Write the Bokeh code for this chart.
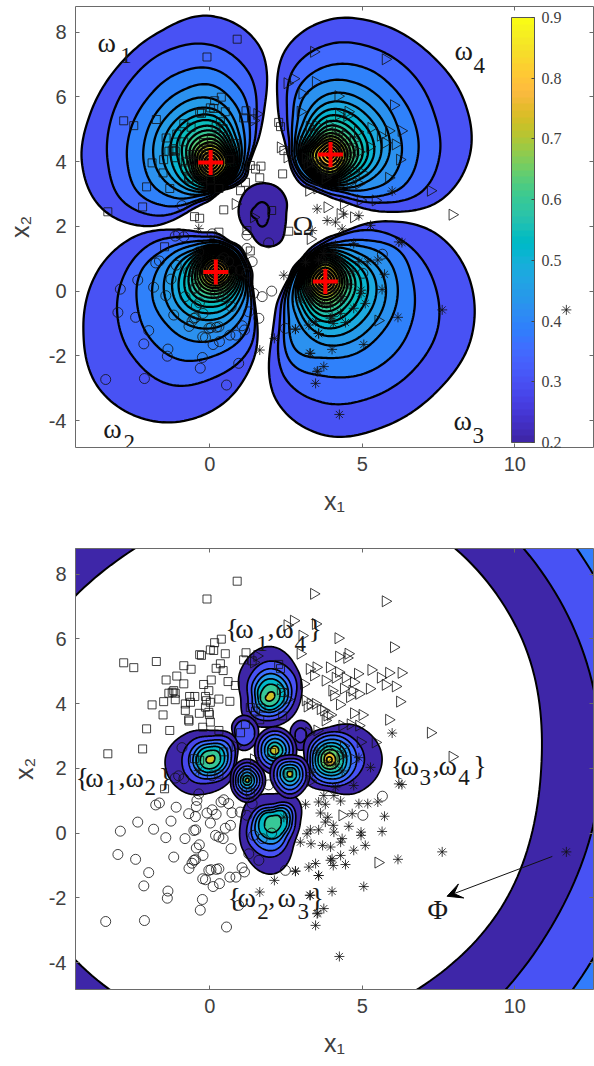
import math
import numpy as np
from bokeh.core.properties import value
from bokeh.embed import file_html
from bokeh.layouts import column
from bokeh.models import (Arrow, ColorBar, FixedTicker, LinearAxis,
                          LinearColorMapper, Range1d, VeeHead)
from bokeh.plotting import figure
from bokeh.resources import INLINE

x_ticks = [0, 5, 10]
y_ticks = [-4, -2, 0, 2, 4, 6, 8]
cbar_ticks = [0.2, 0.3, 0.4, 0.5, 0.6, 0.7, 0.8, 0.9]

centers_x = [0.03, 0.20, 3.79, 3.96]
centers_y = [3.97, 0.59, 0.30, 4.22]

square_x = [.90,-.09,-2.82,-2.49,-1.75,.38,.16,.13,.02,-.27,-.33,.51,1.19,1.11,-.85,-.61,.35,.21,.44,-1.43,-1.08,-.85,.05,-.20,.60,.84,-1.18,-1.34,-1.13,-1.23,-.66,-.49,-.03,-.14,-.11,.30,.66,-1.89,-1.51,-1.13,-.80,-.63,.02,-.14,-.80,-.03,-.34,-1.53,-.01,.02,-.69,-.68,-.23,-2.07,-1.31,.30,-2.20,-3.34,-1.48,2.26,2.32,2.43,1.33,1.68,1.50,2.39,1.64,1.17,1.01,.46,-.50,-.33,2.03,.30,2.59,1.22,1.39,1.33]
square_y = [7.78,7.23,5.26,5.11,5.30,5.99,5.88,5.64,5.66,5.49,5.51,5.54,5.57,5.35,5.17,5.06,5.23,5.09,5.02,4.73,4.85,4.61,4.73,4.59,4.68,4.56,4.40,4.32,4.32,4.35,4.22,4.22,4.40,4.22,4.09,4.14,4.07,3.96,4.06,4.12,3.99,4.04,4.04,3.89,3.79,3.73,3.70,3.65,3.66,3.43,3.50,3.46,3.27,3.22,3.17,3.17,2.60,2.45,1.37,5.21,5.08,4.34,3.88,3.86,3.77,3.62,3.50,3.36,3.10,2.51,2.30,2.25,2.49,1.82,1.85,1.87,5.32,1.24]

circle_x = [-2.93,-2.36,-1.27,-1.84,-3.01,-2.43,-1.44,-.81,-.52,-.46,-.34,-.44,-1.18,-.22,-.47,-.58,-.68,-2.0,-2.16,-1.37,-1.39,-.24,-.31,-3.41,-2.14,.55,.95,.04,.22,-.23,-.14,.11,.32,.66,.86,1.06,1.14,.70,.19,.30,.44,.51,.68,.02,-.47,-.69,-1.10,-1.65,-1.77,-.44,-.42,-.36,-.09,.08,.21,.37,.46,.62,.73,1.0,1.22,1.44,1.61,1.28,2.48,2.03,1.72,1.93,1.22,1.22,1.39,-1.13,-.85,-.52,-.03,.30,5.66,5.02,-.91,.08,-1.02]
circle_y = [.06,.34,.37,.12,-.66,-.81,-.14,-.17,.08,.10,-.36,-.46,-.74,-.69,-.82,-.93,-1.09,-1.22,-1.63,-1.79,-2.01,-2.05,-2.38,-2.73,-2.70,-2.90,-2.23,-1.13,-1.12,-1.41,-1.44,-1.65,-1.56,-1.36,-1.36,-1.07,-1.20,-.48,-.07,-.12,-.17,.15,.24,.31,.51,.60,.80,.93,.87,.82,1.01,1.21,.62,.72,.58,.96,1.03,.91,.63,.65,.55,-.07,-.84,-.64,-1.15,0,-.17,1.49,1.73,1.32,.91,1.70,1.68,-.84,-1.15,-1.10,1.14,.55,2.64,1.77,1.77]

triangle_x = [4.21,6.03,2.97,4.23,4.54,4.50,3.27,3.49,3.93,4.23,4.85,5.29,5.87,6.28,5.60,5.76,6.09,5.24,3.41,3.79,4.12,4.45,4.72,3.08,4.01,4.39,4.67,4.89,4.07,4.59,4.26,6.23,4.72,5.0,5.87,3.14,3.47,3.2,3.74,3.96,3.79,4.34,4.61,4.89,3.52,3.03,3.47,3.41,5.76,2.75,7.24,7.95,5.52,4.34,2.54,1.55,1.44,2.32,2.54,3.25,3.85,4.39,4.28,1.44,.84,3.3,4.72,5.43,4.94,3.63,3.85,3.3]
triangle_y = [6.02,5.74,5.54,5.45,5.54,5.41,5.07,5.12,5.12,4.97,4.92,5.04,4.95,4.95,4.80,4.58,4.53,4.46,4.87,4.71,4.80,4.80,4.66,4.61,4.40,4.46,4.40,4.30,4.25,4.20,3.97,4.06,3.70,3.65,3.5,4.10,3.99,3.91,3.79,3.65,3.48,3.32,3.36,3.32,3.17,6.10,6.46,7.39,7.16,6.56,3.10,2.36,-.91,.55,6.42,5.47,5.27,4.44,4.13,3.10,2.59,2.69,2.38,2.28,2.69,1.61,2.28,2.80,2.81,3.83,3.63,3.99]

star_x = [4.29,3.14,3.57,3.79,3.74,4.07,4.89,5.18,5.51,3.63,4.67,5.73,3.87,3.79,4.56,4.05,4.07,3.30,3.57,3.19,4.96,4.96,5.65,2.97,3.32,3.70,3.96,4.29,4.34,4.72,5.10,4.29,4.45,3.96,4.05,6.17,3.47,3.25,2.81,3.57,5.05,4.01,3.30,7.62,11.69,4.25,3.47,3.74,3.54,-.36,2.43,2.12,1.64,2.81,3.57,4.01,3.28,3.52,3.52,3.85,4.12,3.36,4.39,4.34,4.89,5.98,5.27,6.2,6.3,4.72,4.12]
star_y = [.99,.89,.96,.89,1.16,1.16,.91,.91,.96,.62,.60,.52,.49,.34,.21,.24,.03,.10,.10,-.02,.03,-.07,.05,-.28,-.33,-.38,-.43,-.28,-.17,-.53,-.38,-.69,-.97,-.84,-1.0,-.81,-.94,-1.05,-1.17,-1.31,-1.65,-1.80,-1.92,-.58,-.58,-3.81,-2.85,-2.33,-2.47,1.93,.49,-1.46,-1.82,-1.18,-1.31,-.79,-1.92,-2.49,2.54,2.18,2.13,1.87,2.38,1.92,2.33,3.09,2.03,1.52,1.5,1.47,1.42]

# Contour outlines: radii from each lobe's centre, evenly spaced counter-clockwise from east.
lobe1_center = (0.03, 3.97)
lobe1_rings = [
    [1.28,1.64,2.49,4.15,4.81,4.59,4.37,4.26,4.22,3.88,2.95,1.69,1.22,1.0,1.11,1.26],
    [1.22,1.53,2.13,3.22,3.86,3.93,3.75,3.55,3.37,3.17,2.46,1.48,1.15,.94,1.04,1.18],
    [1.15,1.37,1.80,2.57,3.09,3.11,2.95,2.84,2.73,2.57,2.02,1.37,1.07,.87,.96,1.09],
    [1.07,1.22,1.53,2.08,2.55,2.54,2.43,2.30,2.19,2.02,1.64,1.20,1.0,.82,.90,1.0],
    [.98,1.32,2.11,2.08,1.84,1.36,.98,.92],
    [.93,1.17,1.78,1.78,1.53,1.18,.93,.87],
    [.88,1.04,1.56,1.55,1.27,1.05,.88,.82],
    [.83,.94,1.38,1.36,1.04,.92,.83,.78],
    [.78,.86,1.20,1.16,.88,.80,.78,.73],
    [.73,.78,1.05,1.0,.74,.72,.73,.69],
    [.68,.71,.91,.86,.65,.66,.68,.64],
    [.63,.64,.78,.73,.58,.6,.63,.59],
    [.57,.57,.66,.62,.51,.54,.57,.54],
    [.51,.5,.55,.52,.44,.47,.51,.48],
    [.42,.41,.44,.42,.36,.39,.42,.40],
    [.33,.32,.34,.32,.28,.3,.33,.31],
    [.23,.22,.24,.22,.2,.21,.23,.22],
    [.13,.13,.13,.13,.11,.12,.13,.13],
]
lobe2_center = (0.20, 0.59)
lobe2_rings = [
    [1.19,1.11,1.15,1.12,1.28,1.42,1.97,2.95,3.89,4.70,5.41,5.30,4.48,3.17,1.86,1.31],
    [1.13,1.07,1.09,1.07,1.15,1.26,1.64,2.35,2.96,3.50,3.88,3.99,3.44,2.79,1.80,1.26],
    [1.06,1.0,1.0,1.0,1.04,1.11,1.37,1.86,2.46,2.79,3.06,3.11,2.73,2.30,1.64,1.18],
    [1.0,.94,.95,.94,.98,1.03,1.2,1.55,1.95,2.24,2.35,2.4,2.22,1.85,1.45,1.1],
    [.92,.87,.90,1.03,1.62,1.95,1.82,1.28],
    [.88,.83,.86,.94,1.36,1.66,1.55,1.14],
    [.84,.79,.82,.87,1.15,1.44,1.33,1.02],
    [.79,.75,.77,.80,.98,1.22,1.13,.92],
    [.74,.71,.73,.74,.86,1.04,.97,.83],
    [.69,.67,.68,.68,.76,.89,.84,.74],
    [.64,.62,.63,.62,.67,.76,.72,.66],
    [.59,.57,.58,.56,.6,.65,.62,.58],
    [.53,.52,.52,.5,.52,.55,.53,.5],
    [.47,.46,.46,.45,.45,.46,.45,.44],
    [.39,.39,.38,.38,.37,.37,.37,.36],
    [.31,.31,.3,.3,.29,.29,.29,.28],
    [.22,.22,.21,.21,.2,.2,.2,.2],
    [.12,.12,.12,.12,.11,.11,.11,.11],
]
lobe3_center = (3.79, 0.30)
lobe3_rings = [
    [4.75,3.99,2.79,1.80,1.40,1.20,1.09,1.15,1.26,1.69,2.46,4.21,5.05,5.14,5.14,5.14],
    [3.55,3.0,2.35,1.69,1.29,1.11,1.04,1.09,1.20,1.53,2.13,3.44,3.99,4.10,4.10,3.99],
    [2.87,2.62,1.91,1.42,1.20,1.04,.98,1.04,1.15,1.42,1.91,2.90,3.11,3.28,3.28,3.11],
    [2.35,2.13,1.64,1.29,1.15,1.0,.93,.98,1.09,1.31,1.69,2.46,2.51,2.57,2.51,2.46],
    [1.95,1.38,1.08,.95,.98,1.42,2.08,2.12],
    [1.65,1.2,1.02,.90,.93,1.24,1.78,1.78],
    [1.38,1.06,.97,.85,.88,1.1,1.53,1.5],
    [1.16,.94,.92,.80,.83,.97,1.32,1.25],
    [.98,.86,.87,.75,.78,.86,1.14,1.05],
    [.84,.78,.82,.70,.73,.77,.98,.9],
    [.72,.7,.76,.65,.68,.69,.84,.77],
    [.63,.63,.70,.6,.62,.62,.72,.66],
    [.55,.56,.63,.55,.56,.55,.61,.57],
    [.47,.49,.55,.49,.5,.47,.51,.48],
    [.39,.4,.45,.41,.42,.39,.41,.39],
    [.3,.31,.35,.32,.33,.3,.31,.3],
    [.21,.22,.25,.23,.23,.21,.21,.21],
    [.11,.12,.14,.13,.13,.12,.12,.12],
]
lobe4_center = (3.96, 4.22)
lobe4_rings = [
    [4.57,4.72,4.64,4.59,4.43,3.77,2.46,1.69,1.40,1.37,1.37,1.29,1.40,1.77,2.66,3.91],
    [3.58,3.66,3.77,3.77,3.63,3.08,2.02,1.48,1.34,1.29,1.26,1.20,1.29,1.55,2.24,3.22],
    [2.87,2.95,3.0,3.06,2.93,2.51,1.75,1.37,1.26,1.20,1.17,1.09,1.15,1.37,1.97,2.62],
    [2.33,2.38,2.46,2.49,2.43,2.13,1.53,1.26,1.18,1.14,1.09,1.03,1.09,1.26,1.64,2.13],
    [1.92,2.05,2.0,1.33,1.1,1.0,1.03,1.4],
    [1.65,1.75,1.72,1.18,1.05,.96,.99,1.22],
    [1.42,1.48,1.48,1.05,1.0,.92,.95,1.08],
    [1.22,1.26,1.28,.94,.95,.88,.91,.96],
    [1.05,1.08,1.10,.84,.90,.84,.87,.86],
    [.90,.92,.95,.76,.85,.8,.82,.78],
    [.77,.78,.82,.69,.79,.75,.77,.71],
    [.66,.66,.70,.62,.73,.7,.72,.64],
    [.56,.56,.60,.55,.66,.64,.66,.57],
    [.47,.47,.50,.48,.58,.57,.58,.5],
    [.38,.38,.41,.39,.47,.47,.47,.41],
    [.3,.3,.32,.3,.36,.36,.36,.32],
    [.21,.21,.22,.21,.25,.25,.25,.22],
    [.11,.11,.12,.12,.14,.14,.14,.12],
]
lobe_levels = [.30,.345,.385,.42,.45,.48,.51,.54,.57,.60,.63,.66,.69,.72,.75,.79,.83,.87]

omega_center = (1.72, 2.39)
omega_rings = [
    [.79,.91,1.0,1.0,.94,.83,.77,.74,.74,1.04,1.11,.87],
    [.22,.3,.38,.33,.36,.27,.42,.27],
]
omega_levels = [.2, .205]

phi_center = (2.06, 1.78)
phi_rings = [
    [12.3,12.4,12.6,12.5,12.2,12.2,12.2,12.2,12.2,12.1,12.1,12.1],
    [10.75,11.02,11.15,10.98,10.82,10.82,10.82,10.82,10.66,10.49,10.43,10.39],
    [8.79,9.34,9.57,9.25,8.72,8.82,8.92,8.89,8.79,8.59,8.46,8.66],
]
phi_background_level = .38
phi_levels = [.30, .20]

pair14_center = (1.96, 4.20)
pair14_rings = [
    [1.04,1.29,1.66,1.31,.95,1.09,.98,.98],
    [.85,1.09,1.18,.93,.71,.82,.77,.77],
    [.71,.85,.93,.74,.57,.66,.63,.63],
    [.6,.71,.77,.60,.47,.51,.5,.51],
    [.49,.57,.6,.48,.38,.40,.42,.42],
    [.33,.42,.42,.33,.30,.30,.30,.30],
    [.16,.2,.16,.11,.13,.14,.13,.13],
]
pair14_levels = [.2,.3,.36,.44,.52,.6,.73]
pair12_center = (0.02, 2.27)
pair12_rings = [
    [.87,1.09,.96,1.18,1.48,1.40,1.09,.95],
    [.8,.93,.77,.87,.93,.93,.77,.77],
    [.68,.77,.63,.68,.71,.71,.63,.63],
    [.57,.63,.52,.55,.57,.57,.52,.52],
    [.46,.51,.42,.44,.46,.46,.42,.42],
    [.33,.36,.30,.31,.33,.33,.30,.30],
    [.14,.17,.12,.13,.14,.14,.12,.13],
]
pair12_levels = [.2,.28,.36,.44,.52,.6,.73]
pair23_center = (2.07, 0.31)
pair23_rings = [
    [.9,1.13,.96,1.09,1.06,1.34,1.67,.98],
    [.74,.85,.63,.71,.82,1.04,1.11,.77],
    [.63,.74,.52,.6,.68,.85,.9,.63],
    [.55,.63,.44,.5,.57,.68,.68,.52],
    [.46,.52,.36,.42,.46,.52,.52,.44],
    [.27,.31,.24,.26,.27,.31,.31,.27],
]
pair23_levels = [.2,.3,.37,.45,.53,.6]
pair34_center = (3.92, 2.27)
pair34_rings = [
    [1.73,1.48,1.07,1.04,.82,1.07,1.04,1.46],
    [1.15,1.04,.9,.82,.72,.85,.87,1.0],
    [.9,.87,.79,.71,.63,.72,.77,.85],
    [.71,.72,.66,.6,.55,.6,.63,.71],
    [.57,.59,.55,.49,.46,.49,.52,.57],
    [.46,.48,.44,.39,.37,.39,.42,.46],
    [.33,.35,.33,.30,.27,.30,.31,.33],
    [.2,.21,.22,.19,.17,.19,.2,.2],
    [.09,.09,.09,.09,.09,.09,.09,.09],
]
pair34_levels = [.2,.3,.36,.43,.5,.57,.64,.75,.85]
pair13_center = (2.13, 2.55)
pair13_rings = [
    [.72,.74,.78,.72,.66,.7,.78,.74],
    [.6,.62,.64,.6,.55,.58,.62,.6],
    [.48,.5,.52,.48,.44,.46,.48,.46],
    [.37,.38,.39,.36,.33,.34,.35,.35],
    [.26,.26,.27,.25,.23,.24,.25,.25],
    [.13,.14,.15,.14,.14,.13,.13,.13],
]
pair13_levels = [.2,.3,.38,.47,.56,.72]
pair24_center = (2.62, 1.83)
pair24_rings = [
    [.66,.68,.62,.66,.64,.68,.8,.7],
    [.54,.56,.5,.53,.52,.56,.66,.58],
    [.43,.44,.4,.42,.41,.44,.52,.46],
    [.33,.33,.3,.32,.31,.33,.38,.35],
    [.22,.23,.2,.22,.21,.22,.25,.24],
    [.09,.1,.08,.09,.08,.09,.1,.1],
]
pair24_levels = [.2,.3,.38,.47,.56,.72]
triple_center = (1.23, 1.63)
triple_rings = [
    [.6,.62,.7,.62,.55,.62,.72,.62],
    [.5,.52,.58,.52,.46,.52,.6,.52],
    [.41,.42,.47,.42,.38,.42,.48,.42],
    [.32,.33,.36,.33,.3,.33,.37,.33],
    [.23,.24,.26,.24,.22,.24,.26,.24],
    [.14,.15,.16,.15,.14,.15,.16,.15],
    [.06,.07,.07,.06,.06,.06,.07,.07],
]
triple_levels = [.2,.27,.33,.4,.47,.55,.72]
small_a_center = (1.11, 3.07)
small_a_rings = [
    [.49,.55,.6,.5,.36,.45,.55,.5],
    [.36,.4,.44,.36,.28,.32,.38,.36],
]
small_a_levels = [.2,.3]
small_b_center = (2.97, 3.02)
small_b_rings = [
    [.38,.45,.49,.4,.33,.38,.49,.42],
    [.2,.22,.24,.2,.17,.2,.24,.2],
]
small_b_levels = [.2,.22]

top_word_x = [-3.68,-3.49,7.99,8.02,2.71]
top_word_y = [7.68,-4.24,-3.99,7.43,2.03]
top_word_text = ["ω","ω","ω","ω","Ω"]
top_sub_x = [-2.93,-2.83,8.61,8.65]
top_sub_y = [7.27,-4.67,-4.45,6.97]
top_sub_text = ["1","2","3","4"]

bot_word_x = [.51,.84,1.89,2.15,3.24, -4.40,-4.08,-2.99,-2.76,-1.68, .58,.91,1.92,2.22,3.30, 5.93,6.25,7.30,7.50,8.64, 7.14]
bot_word_y = [6.32,6.32,6.32,6.32,6.32, 1.72,1.72,1.72,1.72,1.72, -1.98,-1.98,-1.98,-1.98,-1.98, 2.09,2.09,2.09,2.09,2.09, -2.35]
bot_word_text = ["{","ω",",","ω","}", "{","ω",",","ω","}", "{","ω",",","ω","}", "{","ω",",","ω","}", "Φ"]
bot_sub_x = [1.53,2.78,-3.42,-2.14,1.56,2.88,6.88,8.15]
bot_sub_y = [5.85,5.85,1.41,1.41,-2.41,-2.41,1.72,1.72]
bot_sub_text = ["1","4","1","2","2","3","3","4"]

PARULA = [(.2422,.1504,.6603),(.2504,.1650,.7076),(.2578,.1818,.7511),(.2647,.1978,.7952),(.2706,.2147,.8364),(.2751,.2342,.8710),(.2783,.2559,.8991),(.2803,.2782,.9221),(.2813,.3006,.9414),(.2810,.3228,.9579),(.2795,.3447,.9717),(.2760,.3667,.9829),(.2699,.3892,.9906),(.2602,.4123,.9952),(.2440,.4358,.9988),(.2206,.4603,.9973),(.1963,.4847,.9892),(.1834,.5074,.9798),(.1786,.5289,.9682),(.1764,.5499,.9520),(.1687,.5703,.9359),(.1540,.5902,.9218),(.1460,.6091,.9079),(.1380,.6276,.8973),(.1248,.6459,.8883),(.1113,.6635,.8763),(.0952,.6798,.8598),(.0689,.6948,.8394),(.0297,.7082,.8163),(.0036,.7203,.7917),(.0067,.7312,.7660),(.0433,.7411,.7394),(.0964,.7500,.7120),(.1408,.7584,.6842),(.1717,.7670,.6554),(.1938,.7758,.6251),(.2161,.7843,.5923),(.2470,.7918,.5567),(.2906,.7973,.5188),(.3406,.8008,.4789),(.3909,.8029,.4354),(.4456,.8024,.3909),(.5044,.7993,.3480),(.5616,.7942,.3045),(.6174,.7876,.2612),(.6720,.7793,.2227),(.7242,.7698,.1910),(.7738,.7598,.1646),(.8203,.7498,.1535),(.8634,.7406,.1596),(.9035,.7330,.1774),(.9393,.7288,.2100),(.9728,.7298,.2394),(.9956,.7434,.2371),(.9970,.7659,.2199),(.9952,.7893,.2028),(.9892,.8136,.1885),(.9786,.8386,.1766),(.9676,.8639,.1643),(.9610,.8890,.1537),(.9597,.9135,.1423),(.9628,.9373,.1265),(.9691,.9606,.1064),(.9769,.9839,.0805)]
PALETTE = ["#%02x%02x%02x" % tuple(int(round(c * 255)) for c in rgb) for rgb in PARULA]

ASPECT = 30.5 / 32.4
SERIF = "Liberation Serif"
SANS = "Liberation Sans"
AXIS_GRAY = "#6a6a6a"
LABEL_GRAY = "#404040"


def colour(level):
    return PALETTE[int(round((level - 0.2) / 0.7 * 63))]


def outline(center, radii, samples=240):
    """Close a ring through its read radii with a periodic cubic curve."""
    r = np.array(radii, dtype=float)
    n = len(r)
    t = np.linspace(0, n, samples, endpoint=False)
    i = np.floor(t).astype(int)
    u = t - i
    p0, p1, p2, p3 = r[(i - 1) % n], r[i % n], r[(i + 1) % n], r[(i + 2) % n]
    rad = 0.5 * (2 * p1 + (p2 - p0) * u + (2 * p0 - 5 * p1 + 4 * p2 - p3) * u ** 2 + (3 * p1 - p0 - 3 * p2 + p3) * u ** 3)
    ang = t * 2 * math.pi / n
    return (center[0] + rad * np.cos(ang)).tolist(), (center[1] + ASPECT * rad * np.sin(ang)).tolist()


def draw_rings(p, center, rings, levels, width=2.3):
    xs, ys = zip(*(outline(center, r) for r in rings))
    p.patches(list(xs), list(ys), fill_color=[colour(v) for v in levels], line_color="black", line_width=width)


def draw_points(p):
    style = dict(fill_alpha=0, line_color="#111111", line_alpha=0.8, line_width=1)
    p.scatter(square_x, square_y, marker="square", size=8, **style)
    p.scatter(circle_x, circle_y, marker="circle", size=10, **style)
    p.scatter(triangle_x, triangle_y, marker="triangle", size=11, angle=-math.pi / 2, **style)
    p.scatter(star_x, star_y, marker="asterisk", size=10, **style)


def make_panel(height, top, bottom, y_label_standoff):
    p = figure(frame_width=518, frame_height=441, width=594, height=height, x_range=Range1d(-4.40, 12.58),
               y_range=Range1d(-4.83, 8.79), output_backend="svg", toolbar_location=None,
               min_border_left=75, min_border_right=1, min_border_top=top, min_border_bottom=bottom,
               x_axis_location="below", y_axis_location="left")
    p.grid.visible = False
    p.outline_line_color = None
    p.add_layout(LinearAxis(), "above")
    p.add_layout(LinearAxis(), "right")
    for ax, ticks in ((p.below[0], x_ticks), (p.above[0], x_ticks), (p.left[0], y_ticks), (p.right[0], y_ticks)):
        ax.ticker = FixedTicker(ticks=ticks)
        ax.axis_line_color = AXIS_GRAY
        ax.major_tick_line_color = AXIS_GRAY
        ax.major_tick_in = 4
        ax.major_tick_out = 0
        ax.minor_tick_line_color = None
        ax.major_label_overrides = {t: str(t) for t in ticks}
        ax.major_label_text_font = SANS
        ax.major_label_text_font_size = "20px"
        ax.major_label_text_color = LABEL_GRAY
        ax.major_label_standoff = 9
    for ax, ticks in ((p.above[0], x_ticks), (p.right[0], y_ticks)):
        ax.major_label_overrides = {t: "" for t in ticks}
        ax.major_label_standoff = 0
    for ax, text, standoff in ((p.below[0], "x₁", 13), (p.left[0], "x₂", y_label_standoff)):
        ax.axis_label = text
        ax.axis_label_text_font = SANS
        ax.axis_label_text_font_size = "25px"
        ax.axis_label_text_font_style = "normal"
        ax.axis_label_text_color = LABEL_GRAY
        ax.axis_label_standoff = standoff
    return p


def words(p, x, y, text, size):
    p.text(x, y, text=text, text_font=value(SERIF), text_font_size=value(size), text_color="#1a1a1a",
           text_align="left", text_baseline="alphabetic")


# Upper panel
p1 = make_panel(548, 6, 101, 12)
draw_rings(p1, omega_center, omega_rings, omega_levels)
for c, r in ((lobe1_center, lobe1_rings), (lobe2_center, lobe2_rings), (lobe3_center, lobe3_rings), (lobe4_center, lobe4_rings)):
    draw_rings(p1, c, r, lobe_levels)
draw_points(p1)
p1.scatter(centers_x, centers_y, marker="cross", size=25, line_color="#ff0000", line_width=4)
words(p1, top_word_x, top_word_y, top_word_text, "28px")
words(p1, top_sub_x, top_sub_y, top_sub_text, "23px")
mapper = LinearColorMapper(palette=PALETTE, low=0.2, high=0.9)
bar = ColorBar(color_mapper=mapper, ticker=FixedTicker(ticks=cbar_ticks), location=(436, 5), width=23, height=425,
               padding=0, margin=0, background_fill_alpha=0, major_label_text_font=SERIF,
               major_label_text_font_size="16px", major_label_text_color=LABEL_GRAY, label_standoff=7,
               major_tick_line_color="#444444", major_tick_in=3, bar_line_color="#555555", minor_tick_line_color=None)
p1.add_layout(bar, "center")

# Lower panel
p2 = make_panel(511, 0, 70, 8)
p2.background_fill_color = colour(phi_background_level)
xs, ys = zip(*(outline(phi_center, r) for r in phi_rings))
p2.patches(list(xs), list(ys), fill_color=[colour(phi_levels[0]), colour(phi_levels[1]), "#ffffff"], line_color="black", line_width=2)
for c, r, lv in ((pair14_center, pair14_rings, pair14_levels), (small_a_center, small_a_rings, small_a_levels),
                 (small_b_center, small_b_rings, small_b_levels), (pair23_center, pair23_rings, pair23_levels),
                 (pair12_center, pair12_rings, pair12_levels), (triple_center, triple_rings, triple_levels),
                 (pair34_center, pair34_rings, pair34_levels), (pair13_center, pair13_rings, pair13_levels),
                 (pair24_center, pair24_rings, pair24_levels)):
    draw_rings(p2, c, r, lv, 1.7)
draw_points(p2)
words(p2, bot_word_x, bot_word_y, bot_word_text, "28px")
words(p2, bot_sub_x, bot_sub_y, bot_sub_text, "23px")
p2.add_layout(Arrow(end=VeeHead(size=15, fill_color="black", line_color="black"), x_start=11.23, y_start=-.72,
                    x_end=7.78, y_end=-1.95, line_width=1, line_color="#111111"))

page = column(p1, p2, spacing=0)
open("out.html", "w").write(file_html(page, INLINE))
